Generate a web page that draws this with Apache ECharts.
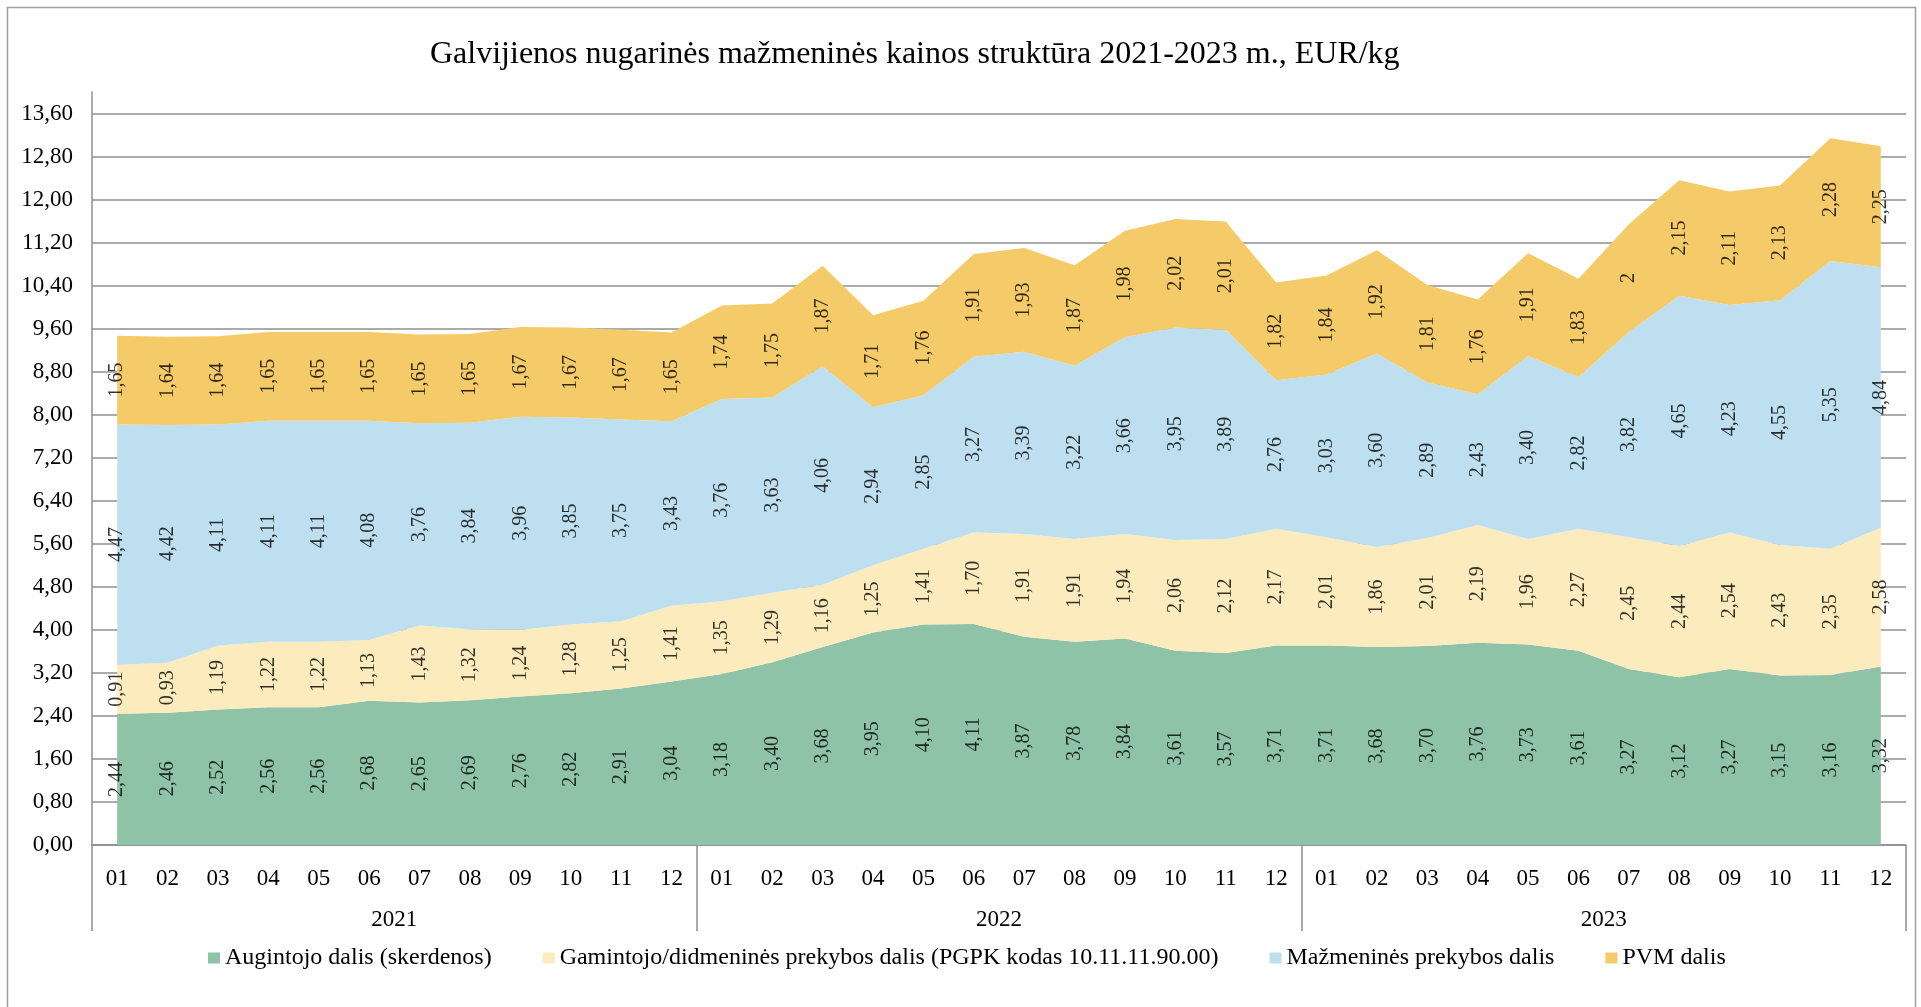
<!DOCTYPE html>
<html><head><meta charset="utf-8">
<script src="https://cdn.jsdelivr.net/npm/echarts@6/dist/echarts.min.js"></script>
<style>html,body{margin:0;padding:0;background:#fff}#c{width:1921px;height:1007px}</style>
</head><body><div id="c"></div>
<script>
const titleText = 'Galvijienos nugarinės mažmeninės kainos struktūra 2021-2023 m., EUR/kg';
const monthLabels = ['01','02','03','04','05','06','07','08','09','10','11','12',
                     '01','02','03','04','05','06','07','08','09','10','11','12',
                     '01','02','03','04','05','06','07','08','09','10','11','12'];
const yearLabels = ['2021','2022','2023'];
const seriesNames = ['Augintojo dalis (skerdenos)',
                     'Gamintojo/didmeninės prekybos dalis (PGPK kodas 10.11.11.90.00)',
                     'Mažmeninės prekybos dalis',
                     'PVM dalis'];
const augintojo = [2.44,2.46,2.52,2.56,2.56,2.68,2.65,2.69,2.76,2.82,2.91,3.04,
                   3.18,3.40,3.68,3.95,4.10,4.11,3.87,3.78,3.84,3.61,3.57,3.71,
                   3.71,3.68,3.70,3.76,3.73,3.61,3.27,3.12,3.27,3.15,3.16,3.32];
const gamintojo = [0.91,0.93,1.19,1.22,1.22,1.13,1.43,1.32,1.24,1.28,1.25,1.41,
                   1.35,1.29,1.16,1.25,1.41,1.70,1.91,1.91,1.94,2.06,2.12,2.17,
                   2.01,1.86,2.01,2.19,1.96,2.27,2.45,2.44,2.54,2.43,2.35,2.58];
const mazmenines = [4.47,4.42,4.11,4.11,4.11,4.08,3.76,3.84,3.96,3.85,3.75,3.43,
                    3.76,3.63,4.06,2.94,2.85,3.27,3.39,3.22,3.66,3.95,3.89,2.76,
                    3.03,3.60,2.89,2.43,3.40,2.82,3.82,4.65,4.23,4.55,5.35,4.84];
const pvm = [1.65,1.64,1.64,1.65,1.65,1.65,1.65,1.65,1.67,1.67,1.67,1.65,
             1.74,1.75,1.87,1.71,1.76,1.91,1.93,1.87,1.98,2.02,2.01,1.82,
             1.84,1.92,1.81,1.76,1.91,1.83,2,2.15,2.11,2.13,2.28,2.25];
const yMin = 0, yMax = 14, yStep = 0.8;
const colors = ['#8EC3A7','#FCEBBC','#BDDFEF','#F4CB68'];

const FONT = 'Liberation Serif';
const gray = '#8f8f8f';
const fmt = v => Number.isInteger(v) ? String(v) : v.toFixed(2).replace('.', ',');

const stacks = [augintojo, gamintojo, mazmenines, pvm];
const series = [];
stacks.forEach((arr, k) => {
  series.push({
    name: seriesNames[k], type: 'line', stack: 'total', data: arr,
    symbol: 'none', lineStyle: {width: 0}, areaStyle: {color: colors[k], opacity: 1},
    itemStyle: {color: colors[k]}, emphasis: {disabled: true}, z: 2
  });
});
// label positions: middle of each band
stacks.forEach((arr, k) => {
  const pts = arr.map((v, i) => {
    let base = 0;
    for (let j = 0; j < k; j++) base += stacks[j][i];
    return [i, base + v / 2, v];
  });
  series.push({
    name: 'lbl' + k, type: 'scatter', data: pts, symbolSize: 0, z: 10,
    silent: true,
    label: {show: true, position: 'inside', rotate: 90, color: '#000',
            fontFamily: FONT, fontSize: 20,
            formatter: p => fmt(p.value[2])}
  });
});

const chart = echarts.init(document.getElementById('c'), null, {renderer: 'canvas'});
chart.setOption({
  animation: false,
  backgroundColor: '#fff',
  title: {text: titleText, left: 430, top: 39, padding: 0,
          textStyle: {fontFamily: FONT, fontSize: 32, fontWeight: 'normal', color: '#000'}},
  graphic: [{type: 'rect', shape: {x: 7.5, y: 7.5, width: 1908, height: 1010},
             style: {fill: 'none', stroke: '#a0a0a0', lineWidth: 1.5}, silent: true}],
  legend: {data: seriesNames, left: 203, top: 941, itemGap: 51, itemWidth: 12, itemHeight: 11,
           icon: 'rect', textStyle: {fontFamily: FONT, fontSize: 24, color: '#000'},
           selectedMode: false},
  grid: {left: 92, right: 15, top: 92, bottom: 162, containLabel: false},
  xAxis: [
    {type: 'category', data: monthLabels, boundaryGap: true, position: 'bottom',
     axisLine: {show: true, lineStyle: {color: gray, width: 1.5}},
     axisTick: {show: false},
     axisLabel: {interval: 0, margin: 22, fontFamily: FONT, fontSize: 23, color: '#000'}},
    {type: 'category', data: yearLabels, boundaryGap: true, position: 'bottom',
     axisLine: {show: false},
     axisTick: {show: true, length: 86, lineStyle: {color: gray, width: 1.5}},
     axisLabel: {interval: 0, margin: 63, fontFamily: FONT, fontSize: 23, color: '#000'}}
  ],
  yAxis: {type: 'value', min: yMin, max: yMax, interval: yStep,
          axisLine: {show: true, lineStyle: {color: gray, width: 1.5}},
          axisTick: {show: false},
          splitLine: {show: true, showMaxLine: false, lineStyle: {color: gray, width: 1.5}},
          axisLabel: {showMaxLabel: false, margin: 19, fontFamily: FONT, fontSize: 23, color: '#000',
                      formatter: v => v > yMax - yStep / 2 ? '' : v.toFixed(2).replace('.', ',')}},
  series: series
});
</script></body></html>
